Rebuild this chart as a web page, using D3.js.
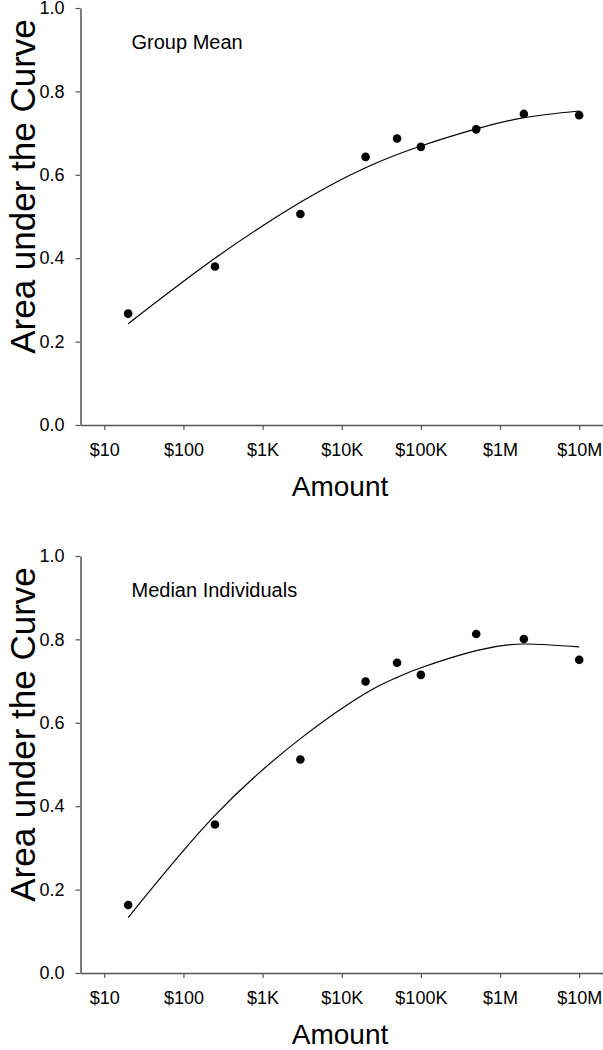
<!DOCTYPE html>
<html>
<head>
<meta charset="utf-8">
<script src="https://cdn.jsdelivr.net/npm/d3@7"></script>
<style>
  html, body { margin: 0; padding: 0; background: #fff; }
  svg { display: block; font-family: "Liberation Sans", Arial, sans-serif; }
</style>
</head>
<body>
<svg id="chart" width="603" height="1050"></svg>
<script>
// ---- data ----
const amounts = [20, 250, 3000, 20000, 50000, 100000, 500000, 2000000, 10000000];
const groupMean = [0.267, 0.380, 0.506, 0.643, 0.687, 0.667, 0.709, 0.746, 0.743];
const medianIndividuals = [0.163, 0.356, 0.512, 0.699, 0.744, 0.715, 0.813, 0.801, 0.751];

// fitted curves
const fitAmountsTop = [20, 250, 3000, 20000, 100000, 500000, 2000000, 10000000];
const fitGroupMean = [0.243, 0.400, 0.534, 0.617, 0.669, 0.710, 0.737, 0.753];
const fitAmountsBottom = [20, 250, 3000, 20000, 50000, 100000, 500000, 2000000, 10000000];
const fitMedianIndividuals = [0.133, 0.378, 0.562, 0.671, 0.709, 0.732, 0.773, 0.789, 0.782];

const xTickValues = [10, 100, 1000, 10000, 100000, 1000000, 10000000];
const xTickLabels = ["$10", "$100", "$1K", "$10K", "$100K", "$1M", "$10M"];
const yTickValues = [0, 0.2, 0.4, 0.6, 0.8, 1.0];
const panelTitles = ["Group Mean", "Median Individuals"];
const xTitle = "Amount";
const yTitle = "Area under the Curve";

// ---- layout ----
const svg = d3.select("#chart");
const axisColor = "#555";
const panels = [
  { top: 8, bottom: 425, pts: groupMean, fx: fitAmountsTop, fy: fitGroupMean, title: panelTitles[0] },
  { top: 556, bottom: 973, pts: medianIndividuals, fx: fitAmountsBottom, fy: fitMedianIndividuals, title: panelTitles[1] }
];

const x = d3.scaleLog().domain([5, 2e7]).range([80.5, 603]);

panels.forEach(p => {
  const y = d3.scaleLinear().domain([0, 1]).range([p.bottom, p.top]);
  const g = svg.append("g");

  // x axis
  const xAxis = d3.axisBottom(x)
    .tickValues(xTickValues)
    .tickFormat((d, i) => xTickLabels[i])
    .tickSize(5).tickSizeOuter(0).tickPadding(13);
  const gx = g.append("g").attr("transform", `translate(0,${p.bottom})`).call(xAxis);

  // y axis
  const yAxis = d3.axisLeft(y)
    .tickValues(yTickValues)
    .tickFormat(d3.format(".1f"))
    .tickSize(5).tickSizeOuter(0).tickPadding(11);
  const gy = g.append("g").attr("transform", `translate(80.5,0)`).call(yAxis);

  [gx, gy].forEach(a => {
    a.select(".domain").attr("stroke", axisColor).attr("stroke-width", 1.5);
    a.selectAll(".tick line").attr("stroke", axisColor).attr("stroke-width", 1.2);
    a.selectAll(".tick text").attr("fill", "#000").style("font-size", "18px")
      .style("font-family", '"Liberation Sans", Arial, sans-serif');
  });

  // fitted curve
  const line = d3.line()
    .x((d, i) => x(p.fx[i]))
    .y(d => y(d))
    .curve(d3.curveNatural);
  g.append("path").datum(p.fy)
    .attr("d", line)
    .attr("fill", "none")
    .attr("stroke", "#000")
    .attr("stroke-width", 1.2);

  // points
  g.selectAll("circle.pt").data(p.pts).enter().append("circle")
    .attr("class", "pt")
    .attr("cx", (d, i) => x(amounts[i]))
    .attr("cy", d => y(d))
    .attr("r", 4.3)
    .attr("fill", "#000");

  // panel title
  g.append("text")
    .attr("x", 131.5).attr("y", p.top + 40.5)
    .style("font-size", "20px")
    .text(p.title);

  // x title
  g.append("text")
    .attr("x", 340).attr("y", p.bottom + 71)
    .attr("text-anchor", "middle")
    .style("font-size", "28px")
    .text(xTitle);

  // y title
  g.append("text")
    .attr("transform", `translate(35,${(p.top + p.bottom) / 2 - 30}) rotate(-90)`)
    .attr("text-anchor", "middle")
    .style("font-size", "35px")
    .text(yTitle);
});
</script>
</body>
</html>
